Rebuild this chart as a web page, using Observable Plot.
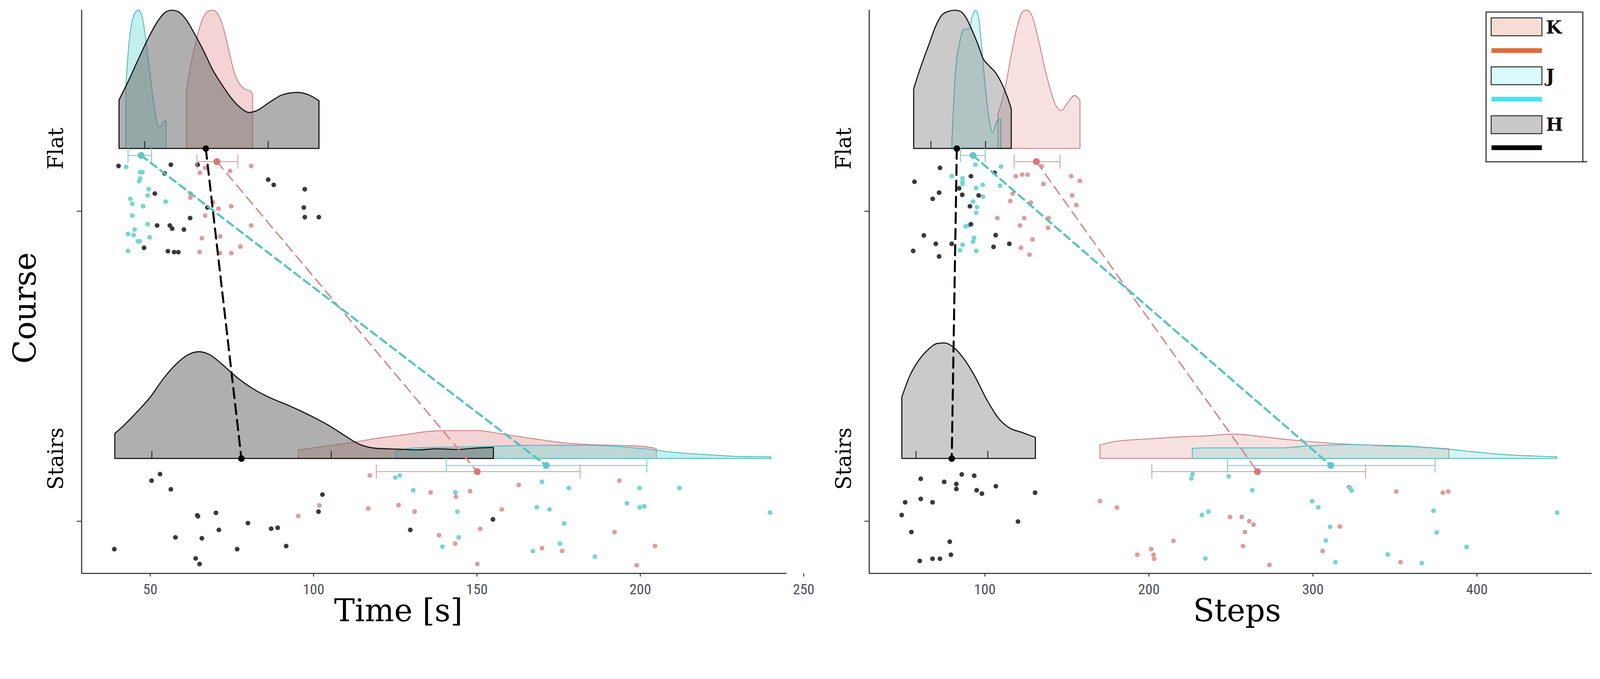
<!DOCTYPE html>
<html><head><meta charset="utf-8">
<script src="https://cdn.jsdelivr.net/npm/d3@7"></script>
<script src="https://cdn.jsdelivr.net/npm/@observablehq/plot@0.6"></script>
<style>
html,body{margin:0;padding:0;background:#fff;overflow:hidden;}
#root{position:relative;width:4380px;height:1739px;overflow:hidden;background:#fff;transform-origin:0 0;}
#root svg{position:absolute;top:0;}
</style></head><body><div id="root"></div>
<script>
// ---------- shared categories ----------
const courses = ["Flat", "Stairs"];
const courseLevel = [1, 0];
const groups = ["K", "J", "H"];

// ---------- Time [s] panel ----------
const timeTicks = [50, 100, 150, 200, 250];
const timeDensFlatK = [[61.1,0.418],[62.5,0.61],[64.2,0.79],[65.9,0.927],[67.6,0.99],[69.1,1.0],[70.8,0.97],[72.2,0.89],[73.9,0.733],[75.6,0.563],[77.4,0.466],[79.0,0.43],[80.8,0.412],[81.4,0.388]];
const timeDensFlatJ = [[42.6,0.466],[43.6,0.77],[44.7,0.94],[46.4,1.0],[47.6,0.95],[48.8,0.77],[49.9,0.563],[51.0,0.345],[52.8,0.151],[54.5,0.2],[54.9,0.2]];
const timeDensFlatH = [[40.5,0.35],[43.6,0.50],[46.5,0.65],[49.3,0.79],[52.2,0.915],[55.0,0.99],[56.7,1.0],[58.5,0.99],[60.8,0.94],[63.6,0.83],[66.5,0.70],[69.3,0.563],[72.2,0.454],[75.1,0.357],[77.9,0.29],[80.2,0.26],[82.5,0.272],[86.5,0.333],[90.5,0.388],[95.0,0.405],[98.5,0.388],[101.7,0.345]];
const timeDensStairsK = [[95.4,0.061],[105,0.093],[113,0.12],[120.7,0.15],[128.6,0.174],[136.4,0.198],[142,0.202],[150.2,0.202],[157,0.18],[167.3,0.143],[177.6,0.111],[187,0.098],[197.2,0.092],[204,0.076],[205,0.07]];
const timeDensStairsJ = [[125.3,0.056],[131,0.076],[150.2,0.085],[167.3,0.095],[184.4,0.095],[201.5,0.069],[210,0.045],[222.9,0.024],[229.7,0.015],[240,0.012]];
const timeDensStairsH = [[39.2,0.18],[42.2,0.244],[46.1,0.339],[50.1,0.445],[54.0,0.575],[57.9,0.68],[61.8,0.752],[65.0,0.772],[68.1,0.752],[72.1,0.68],[76.0,0.598],[81.5,0.504],[86.2,0.445],[93.3,0.374],[99.6,0.303],[105.1,0.233],[109.8,0.162],[113.0,0.115],[119.3,0.073],[125,0.068],[132,0.062],[138,0.07],[144,0.065],[150,0.075],[155.1,0.08]];

const timePtsFlatH = [[40.3,0.146],[56.3,0.150],[64.5,0.150],[54.4,0.122],[86.1,0.102],[87.8,0.085],[97.3,0.071],[51.4,0.057],[67.5,0.012],[97.0,0.012],[62.2,-0.022],[97.3,-0.019],[101.6,-0.019],[52.1,-0.046],[56.0,-0.046],[56.7,-0.056],[60.3,-0.059],[48.1,-0.118],[55.4,-0.129],[57.3,-0.132],[58.6,-0.132]];
const timePtsFlatJ = [[42.6,0.143],[46.9,0.126],[47.6,0.126],[46.6,0.097],[46.9,0.105],[49.5,0.071],[49.2,0.051],[43.9,0.040],[44.5,0.024],[47.8,0.016],[54.7,0.031],[44.5,-0.014],[49.2,-0.042],[45.2,-0.059],[43.2,-0.073],[44.9,-0.077],[49.8,-0.084],[46.2,-0.097],[46.8,-0.097],[43.2,-0.128]];
const timePtsFlatK = [[66.8,0.140],[65.2,0.124],[74.4,0.130],[80.9,0.146],[62.3,0.057],[62.3,0.044],[69.2,0.029],[74.8,0.016],[70.9,0.008],[66.8,-0.014],[80.9,-0.046],[65.8,-0.087],[71.4,-0.081],[77.6,-0.114],[65.1,-0.132],[71.3,-0.135],[74.8,-0.135]];
const timePtsStairsH = [[53.0,0.152],[50.4,0.131],[56.3,0.103],[102.7,0.086],[101.5,0.031],[70.1,0.027],[64.4,0.019],[64.6,0.016],[79.9,-0.006],[71.0,-0.028],[87.0,-0.024],[89.0,-0.021],[57.7,-0.052],[65.8,-0.055],[39.0,-0.090],[76.6,-0.090],[91.6,-0.080],[63.9,-0.120],[65.1,-0.138],[129.6,-0.028],[154.9,0.006]];
const timePtsStairsK = [[117.2,0.148],[101.8,0.051],[95.3,0.017],[116.7,0.041],[126.0,0.052],[130.9,0.031],[135.8,0.093],[147.9,0.097],[143.6,0.079],[138.4,-0.045],[143.3,-0.072],[162.8,0.117],[193.6,0.131],[157.6,0.038],[151.0,-0.025],[192.1,-0.035],[169.9,-0.087],[176.1,-0.096],[204.5,-0.080],[150.1,-0.138],[198.9,-0.142]];
const timePtsStairsJ = [[125.0,0.141],[126.4,0.148],[130.5,0.100],[143.4,0.093],[144.0,0.031],[144.4,-0.052],[139.4,-0.082],[169.9,0.127],[178.1,0.107],[199.8,0.107],[212.0,0.107],[195.9,0.058],[199.8,0.045],[201.2,0.048],[168.3,0.045],[172.2,0.038],[239.7,0.028],[176.7,-0.007],[175.4,-0.072],[167.1,-0.096],[186.1,-0.114]];

// means and error-bar limits, [Flat, Stairs]
const timeMeanK = [70.4, 150.1], timeLoK = [64.3, 119.2], timeHiK = [76.8, 181.6];
const timeMeanJ = [47.2, 171.2], timeLoJ = [43.2, 140.6], timeHiJ = [50.4, 202.0];
const timeMeanH = [67.0, 77.9];
const timeBaseTicks = [[48.3, 86.1], [50.5, 105.4]];

// ---------- Steps panel ----------
const stepsTicks = [100, 200, 300, 400];
const stepsDensFlatK = [[108.1,0.25],[112.6,0.443],[116.1,0.673],[119.5,0.867],[122.9,0.985],[125.7,1.0],[129.1,0.951],[133.1,0.77],[136.5,0.588],[139.9,0.431],[143.4,0.31],[146.8,0.274],[150.1,0.322],[154.8,0.383],[158.1,0.347]];
const stepsDensFlatJ = [[80.0,0.05],[81.0,0.3],[82.0,0.528],[84.8,0.77],[87.1,0.86],[90.6,0.865],[92.3,0.951],[94.3,1.0],[96.2,0.951],[97.9,0.77],[100.2,0.467],[102.5,0.226],[104.7,0.117],[107.6,0.2],[109.8,0.213]];
const stepsDensFlatH = [[56.7,0.431],[59.3,0.528],[62.8,0.649],[66.2,0.758],[69.5,0.867],[73.0,0.951],[77.5,0.99],[82.0,1.0],[85.4,0.99],[88.9,0.94],[92.3,0.855],[95.7,0.758],[99.1,0.649],[102.5,0.6],[107.1,0.54],[110.5,0.467],[113.9,0.37],[116.2,0.286]];
const stepsDensStairsK = [[170.3,0.097],[179.1,0.122],[200.4,0.142],[221.7,0.157],[234.4,0.163],[251.2,0.176],[269.5,0.157],[284.9,0.136],[303.3,0.117],[326.3,0.10],[357,0.09],[377,0.074],[383,0.07]];
const stepsDensStairsJ = [[226.6,0.072],[234.4,0.076],[280,0.076],[297,0.09],[326,0.1],[344.7,0.09],[361.5,0.085],[383,0.066],[398.6,0.047],[413.8,0.03],[438,0.016],[448.8,0.012]];
const stepsDensStairsH = [[49.5,0.444],[54.2,0.594],[60,0.713],[65.5,0.787],[71.3,0.832],[75.5,0.835],[81.2,0.802],[86.9,0.727],[94.0,0.594],[101.1,0.429],[108.2,0.294],[115.2,0.22],[122.3,0.19],[130.9,0.152]];

const stepsPtsFlatH = [[72.6,0.140],[57.1,0.095],[91.5,0.113],[105.9,0.124],[84.3,0.074],[72.1,0.060],[86.2,0.053],[96.2,0.051],[68.2,0.040],[90.9,0.016],[91.5,-0.042],[62.8,-0.078],[106.6,-0.077],[70.1,-0.105],[79.8,-0.105],[105.3,-0.115],[114.9,-0.105],[56.3,-0.128],[72.1,-0.146]];
const stepsPtsFlatJ = [[94.2,0.150],[109.8,0.144],[79.8,0.113],[86.4,0.106],[86.4,0.095],[86.4,0.088],[98.7,0.085],[94.7,0.075],[109.3,0.082],[98.8,0.047],[92.8,0.031],[95.3,0.013],[94.7,-0.005],[88.3,-0.049],[90.0,-0.046],[93.4,-0.086],[92.8,-0.098],[86.4,-0.108],[84.9,-0.126],[94.7,-0.128]];
const stepsPtsFlatK = [[134.6,0.145],[118.9,0.113],[122.7,0.118],[126.0,0.118],[152.6,0.113],[157.9,0.098],[135.7,0.088],[117.0,0.057],[153.2,0.051],[115.5,0.033],[128.0,0.028],[155.8,0.020],[107.6,-0.022],[124.0,-0.022],[121.4,-0.046],[138.5,-0.053],[138.8,-0.022],[129.1,-0.091],[122.0,-0.118],[127.2,-0.140]];
const stepsPtsStairsH = [[60.9,0.137],[75.2,0.127],[85.9,0.151],[93.5,0.147],[82.6,0.120],[82.6,0.104],[95.0,0.100],[98.2,0.089],[106.7,0.113],[130.6,0.092],[51.4,0.061],[60.9,0.072],[68.1,0.061],[49.3,0.020],[120.2,-0.001],[55.2,-0.035],[78.6,-0.066],[79.3,-0.108],[68.1,-0.121],[72.6,-0.121],[60.3,-0.128]];
const stepsPtsStairsK = [[170.2,0.065],[180.5,0.044],[215.0,-0.063],[201.4,-0.090],[202.8,-0.108],[203.2,-0.121],[192.9,-0.108],[322.0,0.110],[350.8,0.096],[379.2,0.092],[382.5,0.096],[249.4,0.014],[256.6,0.014],[261.2,0.000],[263.8,-0.011],[258.6,-0.035],[316.4,-0.017],[257.3,-0.080],[305.9,-0.096],[353.4,-0.132],[273.5,-0.141]];
const stepsPtsStairsJ = [[226.6,0.152],[225.9,0.138],[232.3,0.020],[236.3,0.031],[234.4,-0.120],[248.6,0.145],[263.0,0.100],[322.8,0.107],[323.5,0.099],[299.5,0.065],[303.3,0.045],[373.5,0.034],[448.9,0.028],[310.5,-0.018],[375.4,-0.036],[307.9,-0.062],[393.7,-0.083],[345.6,-0.107],[313.7,-0.132],[366.4,-0.135]];

const stepsMeanK = [131.4, 266.2], stepsLoK = [117.8, 201.8], stepsHiK = [145.8, 332.1];
const stepsMeanJ = [92.8, 310.9], stepsLoJ = [85.2, 247.9], stepsHiJ = [100.2, 374.5];
const stepsMeanH = [82.9, 79.8];
const stepsBaseTicks = [[67.1, 100.4], [58.0, 101.8]];

// ---------- layout constants ----------
const BASE_OFF = 0.202, J_OFF = 0.180, K_OFF = 0.160, DENS_SCALE = 0.446, CAP = 0.023, BTICK = 0.024;
const Y_DOMAIN = [-0.1684, 1.649];
const serif = "DejaVu Serif";
const tickFont = "'Liberation Sans Narrow', 'Arial Narrow', 'Roboto Condensed', sans-serif";

function buildPanel(cfg) {
  const st = cfg.style;
  const marks = [];
  courseLevel.forEach((lvl, ci) => {
    for (const g of ["K", "J", "H"]) {
      marks.push(Plot.areaY(cfg.dens[g][ci], {
        x: d => d[0], y1: lvl + BASE_OFF, y2: d => lvl + BASE_OFF + d[1] * DENS_SCALE,
        fill: st.fill[g], fillOpacity: st.fillOpacity[g],
        stroke: st.line[g], strokeWidth: g === "H" ? 3 : 2.5, curve: "monotone-x"
      }));
    }
    marks.push(Plot.ruleX(cfg.baseTicks[ci], {x: d => d, y1: lvl + BASE_OFF, y2: lvl + BASE_OFF + BTICK, stroke: "#222", strokeWidth: 2.5}));
  });
  courseLevel.forEach((lvl, ci) => {
    for (const g of ["K", "J", "H"]) {
      marks.push(Plot.dot(cfg.pts[g][ci], {x: d => d[0], y: d => lvl + d[1], r: 6.5, fill: st.pt[g], stroke: "none"}));
    }
  });
  const offs = {K: K_OFF, J: J_OFF, H: BASE_OFF};
  for (const g of ["K", "J", "H"]) {
    const pts = courseLevel.map((lvl, i) => ({x: cfg.mean[g][i], y: lvl + offs[g]}));
    marks.push(Plot.line(pts, {x: "x", y: "y", stroke: st.dash[g], strokeWidth: st.dashW[g], strokeDasharray: st.dashA[g]}));
  }
  for (const g of ["K", "J"]) {
    const bars = courseLevel.map((lvl, i) => ({y: lvl + offs[g], lo: cfg.lo[g][i], hi: cfg.hi[g][i]}));
    marks.push(Plot.ruleY(bars, {y: "y", x1: "lo", x2: "hi", stroke: st.err[g], strokeWidth: 2.5}));
    const caps = bars.flatMap(b => [{x: b.lo, y: b.y}, {x: b.hi, y: b.y}]);
    marks.push(Plot.ruleX(caps, {x: "x", y1: d => d.y - CAP, y2: d => d.y + CAP, stroke: st.err[g], strokeWidth: 2.5}));
  }
  for (const g of ["K", "J", "H"]) {
    const m = courseLevel.map((lvl, i) => ({x: cfg.mean[g][i], y: lvl + offs[g]}));
    marks.push(Plot.dot(m, {x: "x", y: "y", r: g === "H" ? 9 : 9.5, fill: st.meanC[g], stroke: "none"}));
  }
  marks.push(Plot.ruleX([cfg.domain[0]], {stroke: "#333", strokeWidth: 3}));
  marks.push(Plot.ruleY([Y_DOMAIN[0]], {stroke: "#333", strokeWidth: 3}));
  marks.push(Plot.axisX({ticks: cfg.ticks, tickSize: 9, tickPadding: 20, fontSize: 40, fontFamily: tickFont, fill: "#4d4d55", stroke: "#333", strokeWidth: 2.5, label: null}));
  marks.push(Plot.axisY({ticks: courseLevel, tickSize: 13, tickFormat: () => "", stroke: "#333", strokeWidth: 2.5, label: null}));
  marks.push(Plot.text(courses, {y: (d, i) => courseLevel[i] + BASE_OFF, frameAnchor: "left", dx: -51, rotate: -90, lineAnchor: "bottom", textAnchor: "middle", fontSize: 57, fontFamily: serif, fill: "black"}));
  marks.push(Plot.text([cfg.title], {frameAnchor: "bottom", dx: cfg.titleDx, dy: 131, lineAnchor: "bottom", textAnchor: "middle", fontSize: 85, fontFamily: serif, fill: "black"}));
  if (cfg.yTitle) {
    marks.push(Plot.text([cfg.yTitle], {frameAnchor: "left", dx: -126, dy: 44.5, rotate: -90, lineAnchor: "bottom", textAnchor: "middle", fontSize: 85, fontFamily: serif, fill: "black"}));
  }
  const svg = Plot.plot({
    width: cfg.width, height: 1739,
    marginLeft: cfg.marginLeft, marginRight: cfg.marginRight, marginTop: 27, marginBottom: 169,
    x: {domain: cfg.domain, label: null, axis: null},
    y: {domain: Y_DOMAIN, label: null, axis: null},
    style: {background: "transparent", overflow: "visible", maxWidth: "none"},
    marks
  });
  svg.style.left = cfg.left + "px";
  return svg;
}

const baseStyle = {
  fill: {K: "#e09090", J: "#7ddcdc", H: "#6e6e6e"},
  line: {K: "#cc8585", J: "#55bcbc", H: "#111"},
  pt: {K: "#df9c9c", J: "#78d4d4", H: "#3a3a3a"},
  meanC: {K: "#d9777a", J: "#5cc8c8", H: "#000"},
  err: {K: "#d7a2a2", J: "#7fcccc"},
  dash: {K: "#d48a8a", J: "#5cc3c3", H: "#000"},
  dashW: {K: 4, J: 6, H: 5.5},
  dashA: {K: "26,16", J: "20,13", H: "28,16"}
};

const root = document.getElementById("root");
root.appendChild(buildPanel({
  left: 0, width: 2190, marginLeft: 223, marginRight: 37,
  domain: [29, 244.8], ticks: timeTicks, title: "Time [s]", titleDx: -98, yTitle: "Course",
  dens: {K: [timeDensFlatK, timeDensStairsK], J: [timeDensFlatJ, timeDensStairsJ], H: [timeDensFlatH, timeDensStairsH]},
  pts: {K: [timePtsFlatK, timePtsStairsK], J: [timePtsFlatJ, timePtsStairsJ], H: [timePtsFlatH, timePtsStairsH]},
  mean: {K: timeMeanK, J: timeMeanJ, H: timeMeanH},
  lo: {K: timeLoK, J: timeLoJ}, hi: {K: timeHiK, J: timeHiJ},
  baseTicks: timeBaseTicks,
  style: {...baseStyle, fillOpacity: {K: 0.4, J: 0.45, H: 0.55}}
}));
root.appendChild(buildPanel({
  left: 2190, width: 2190, marginLeft: 189, marginRight: 23,
  domain: [29.5, 470], ticks: stepsTicks, title: "Steps", titleDx: 18, yTitle: null,
  dens: {K: [stepsDensFlatK, stepsDensStairsK], J: [stepsDensFlatJ, stepsDensStairsJ], H: [stepsDensFlatH, stepsDensStairsH]},
  pts: {K: [stepsPtsFlatK, stepsPtsStairsK], J: [stepsPtsFlatJ, stepsPtsStairsJ], H: [stepsPtsFlatH, stepsPtsStairsH]},
  mean: {K: stepsMeanK, J: stepsMeanJ, H: stepsMeanH},
  lo: {K: stepsLoK, J: stepsLoJ}, hi: {K: stepsHiK, J: stepsHiJ},
  baseTicks: stepsBaseTicks,
  style: {...baseStyle, fillOpacity: {K: 0.27, J: 0.3, H: 0.37}}
}));

// ---------- legend ----------
const legendFill = {K: "#f6ddd4", J: "#d9fbfb", H: "#c9c9c9"};
const legendLine = {K: "#dd6d3a", J: "#4ae4e8", H: "#000000"};
const lg = d3.create("svg").attr("width", 340).attr("height", 460)
  .style("left", "4040px").style("top", "0px");
lg.append("rect").attr("x", 28).attr("y", 33).attr("width", 265).attr("height", 410)
  .attr("fill", "white").attr("stroke", "#333").attr("stroke-width", 3);
lg.append("line").attr("x1", 293).attr("x2", 305).attr("y1", 443).attr("y2", 443).attr("stroke", "#333").attr("stroke-width", 3);
groups.forEach((g, i) => {
  lg.append("rect").attr("x", 42).attr("y", 49 + i * 134).attr("width", 139).attr("height", 49)
    .attr("fill", legendFill[g]).attr("stroke", "#222").attr("stroke-width", 2.5);
  lg.append("rect").attr("x", 43).attr("y", 132 + i * 133).attr("width", 138).attr("height", 13)
    .attr("fill", legendLine[g]);
  lg.append("text").attr("x", 192).attr("y", 92 + i * 133).text(g)
    .attr("font-family", serif).attr("font-weight", "bold").attr("font-size", 50).attr("fill", "#111");
});
root.appendChild(lg.node());

// fit the fixed 4380x1739 drawing into the actual viewport
function fit() {
  const w = document.documentElement.clientWidth || window.innerWidth || 4380;
  const h = document.documentElement.clientHeight || window.innerHeight || 1739;
  const s = Math.min(w / 4380, h / 1739);
  root.style.transform = s > 0 && Math.abs(s - 1) > 0.001 ? `scale(${s})` : "";
}
fit();
window.addEventListener("resize", fit);
</script></body></html>
